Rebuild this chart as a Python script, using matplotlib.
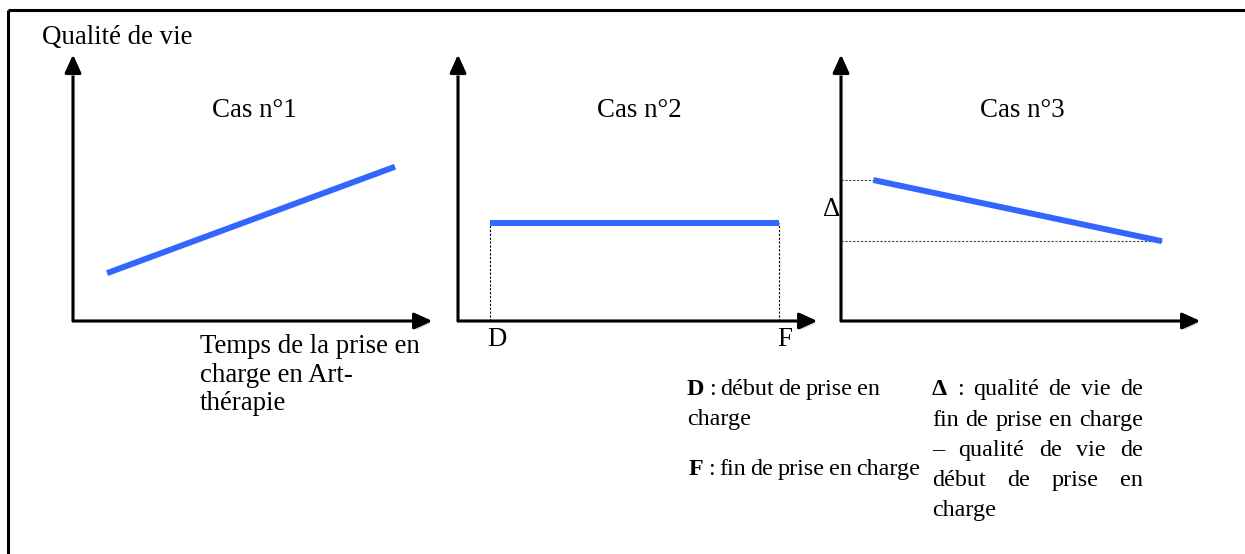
import matplotlib
matplotlib.use("Agg")
import matplotlib.pyplot as plt
import matplotlib.patheffects as pe

W, H = 1245, 554
FONT = "Liberation Serif"
BLUE = "#3366ff"

# ---- data ----
cases = ["Cas n°1", "Cas n°2", "Cas n°3"]
t_start = [9.5, 9.0, 9.0]
t_end = [89.7, 89.4, 89.4]
q_start = [18.0, 37.0, 53.0]
q_end = [58.0, 37.0, 30.0]
y_label = "Qualité de vie"
x_label_lines = ["Temps de la prise en", "charge en Art-", "thérapie"]
tick_D, tick_F = "D", "F"
delta_sym = "Δ"

fig = plt.figure(figsize=(W / 100, H / 100), dpi=100)
fig.patch.set_facecolor("white")
ov = fig.add_axes([0, 0, 1, 1])
ov.set_xlim(0, W)
ov.set_ylim(H, 0)
ov.axis("off")
renderer = fig.canvas.get_renderer()

# fit font size
tt = ov.text(0, 0, x_label_lines[0], fontsize=10, family=FONT)
w10 = tt.get_window_extent(renderer).width
tt.remove()
FS = 10 * 220.0 / w10
FSL = FS * 0.9

# frame (top and left)
ov.plot([8, W], [10, 10], color="black", lw=2.2, solid_capstyle="butt", clip_on=False)
ov.plot([8, 8], [10, H], color="black", lw=2.2, solid_capstyle="butt", clip_on=False)

panel_left = [73, 458, 841]
panel_w = 359
bottom_px, top_px = 321, 55
shadow = [pe.withSimplePatchShadow(offset=(1.5, -1.5), shadow_rgbFace="#cfcfcf", alpha=1.0), pe.Normal()]

axes = []
for i in range(3):
    ax = fig.add_axes([panel_left[i] / W, 1 - bottom_px / H, panel_w / W, (bottom_px - top_px) / H])
    ax.set_xlim(0, 100)
    ax.set_ylim(0, 100)
    ax.axis("off")
    ax.patch.set_alpha(0)
    for end in [(1, 0), (0, 1)]:
        ann = ax.annotate("", xy=end, xytext=(0, 0), xycoords="axes fraction",
                          textcoords="axes fraction",
                          arrowprops=dict(arrowstyle="-|>,head_length=1.1,head_width=0.5",
                                          lw=1.9, color="black", shrinkA=0, shrinkB=0,
                                          mutation_scale=10))
        ann.arrow_patch.set_path_effects(shadow)
    ax.plot([t_start[i], t_end[i]], [q_start[i], q_end[i]], color=BLUE, lw=4.3,
            solid_capstyle="butt", zorder=5)
    ax.text(50.5, 79, cases[i], ha="center", va="center", fontsize=FS, family=FONT)
    axes.append(ax)

# case 2 guides
ax2 = axes[1]
ax2.plot([t_start[1], t_start[1]], [0, q_start[1]], color="black", lw=0.8, ls=(0, (2, 1.5)))
ax2.plot([t_end[1], t_end[1]], [0, q_end[1]], color="black", lw=0.8, ls=(0, (2, 1.5)))
ax2.text(t_start[1] + 1.8, -6.8, tick_D, ha="center", va="center", fontsize=FS, family=FONT, clip_on=False)
ax2.text(t_end[1] + 1.5, -6.8, tick_F, ha="center", va="center", fontsize=FS, family=FONT, clip_on=False)

# case 3 guides
ax3 = axes[2]
ax3.plot([0, t_start[2]], [q_start[2], q_start[2]], color="#444444", lw=0.8, ls=(0, (2, 1.5)))
ax3.plot([0, t_end[2]], [q_end[2], q_end[2]], color="#444444", lw=0.8, ls=(0, (2, 1.5)))
ax3.text(-0.3, (q_start[2] + q_end[2]) / 2 + 0.5, delta_sym, ha="right", va="center",
         fontsize=FS, family=FONT, clip_on=False)

# axis titles
ov.text(42, 37, y_label, ha="left", va="center", fontsize=FS, family=FONT)
for k, line in enumerate(x_label_lines):
    ov.text(200, 353 + 28.5 * k, line, ha="left", va="baseline", fontsize=FS, family=FONT)


def width_of(s, bold=False):
    t = ov.text(0, 0, s, fontsize=FSL, family=FONT, fontweight="bold" if bold else "normal")
    w = t.get_window_extent(renderer).width
    t.remove()
    return w


def draw_words(words, x0, x1, y, justify=True, bold_first=False):
    widths = [width_of(w, bold_first and j == 0) for j, w in enumerate(words)]
    if justify and len(words) > 1:
        gap = (x1 - x0 - sum(widths)) / (len(words) - 1)
    else:
        gap = width_of(" ")
    x = x0
    for j, w in enumerate(words):
        ov.text(x, y, w, ha="left", va="baseline", fontsize=FSL, family=FONT,
                fontweight="bold" if (bold_first and j == 0) else "normal")
        x += widths[j] + gap


# legend D / F
draw_words(["D", ":", "début", "de", "prise", "en"], 687, 880, 395, bold_first=True)
draw_words(["charge"], 687, 880, 425, justify=False)
draw_words(["F", ":", "fin", "de", "prise", "en", "charge"], 689, 920, 475, bold_first=True)

# legend delta (justified)
xl, xr = 932, 1143
draw_words(["Δ", ":", "qualité", "de", "vie", "de"], xl, xr, 395, bold_first=True)
draw_words(["fin", "de", "prise", "en", "charge"], xl, xr, 426)
draw_words(["–", "qualité", "de", "vie", "de"], xl, xr, 456)
draw_words(["début", "de", "prise", "en"], xl, xr, 486)
draw_words(["charge"], xl, xr, 516, justify=False)

fig.savefig("out.png", dpi=100, facecolor="white")
